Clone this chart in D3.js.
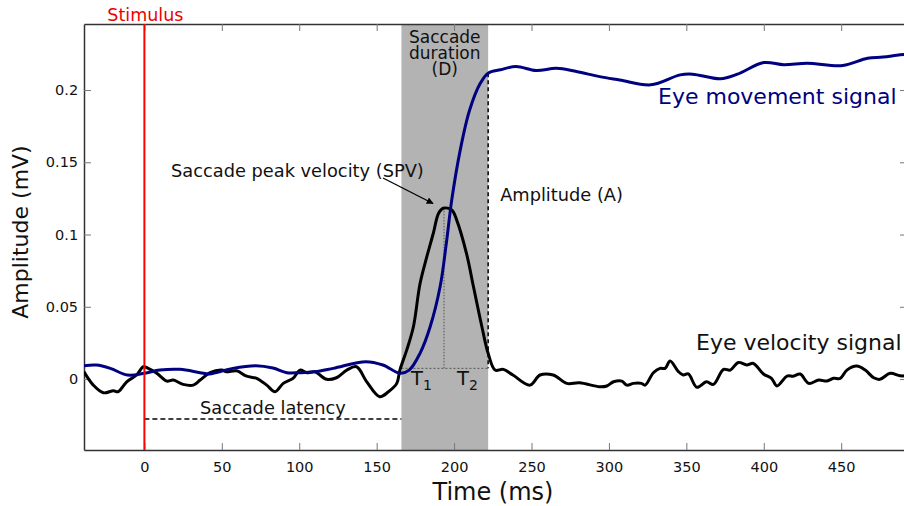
<!DOCTYPE html>
<html>
<head>
<meta charset="utf-8">
<script src="https://cdn.jsdelivr.net/npm/d3@7"></script>
<style>
  html, body { margin: 0; padding: 0; background: #fff; }
  svg { display: block; font-family: "DejaVu Sans", sans-serif; }
</style>
</head>
<body>
<svg id="chart" width="904" height="506"></svg>
<script>
// Axis ticks
const timeTicks = [0, 50, 100, 150, 200, 250, 300, 350, 400, 450];
const ampTicks = [0, 0.05, 0.1, 0.15, 0.2];

// Eye movement (position) signal, mV over ms
const movementTime = [-39, -31, -22, -11, 0, 10, 23, 36, 42, 57, 72, 83, 92, 100, 110, 122, 143, 154, 165, 171,
  178, 184.5, 191, 195, 198.5, 204, 210, 217, 222, 230, 240, 253, 266, 279, 294, 307, 327, 346, 354, 372,
  383, 400, 413, 428, 451, 467, 477, 488, 492.5];
const movementAmp = [0.0092, 0.0097, 0.0074, 0.0028, 0.004, 0.0062, 0.0067, 0.0044, 0.0035, 0.0074, 0.0092, 0.0076,
  0.0044, 0.0044, 0.005, 0.0074, 0.012, 0.0097, 0.004, 0.0062, 0.0178, 0.036, 0.064, 0.094, 0.124, 0.1586,
  0.186, 0.2048, 0.2117, 0.214, 0.2163, 0.2135, 0.215, 0.2128, 0.2093, 0.207, 0.2036, 0.2105, 0.211, 0.2078,
  0.211, 0.219, 0.2175, 0.2186, 0.217, 0.222, 0.2228, 0.2244, 0.2246];

// Eye velocity signal
const velocityTime = [-39, -33, -26.5, -20, -17, -11.4, -5, -0.7, 2.5, 8, 14.4, 18.7, 25, 31.6, 36, 42.4, 50, 53,
  59.6, 66, 72.5, 79, 84.4, 89.7, 96, 100.5, 104.8, 110, 117.8, 124, 130.7, 137, 143.6, 152, 157.6, 163, 165,
  169.4, 173.7, 178, 182.4, 186.6, 190, 193, 198.5, 201.7, 208, 212.5, 218, 222, 226.5, 231.8, 238, 249, 255.5,
  264, 272.8, 281, 294, 298.6, 303, 308.3, 311.6, 315.8, 321, 323.4, 328.7, 333, 336.3, 339.5, 345, 348, 351.3,
  356.8, 363, 367.5, 374, 378.3, 383.6, 389, 393.3, 399.8, 405, 408.5, 415, 419, 423.5, 429, 435.5, 440.8, 445,
  449.4, 453.7, 460, 465.5, 471, 475, 481.6, 488, 492.5];
const velocityAmp = [0.005, -0.0042, -0.0095, -0.0081, -0.0088, -0.0019, 0.0028, 0.0085, 0.0074, 0.004, -0.0014,
  -0.0007, -0.0037, -0.0042, -0.0007, 0.0044, 0.0062, 0.005, 0.0057, 0.002, 0.0005, -0.0042, -0.0088, -0.003,
  0.0005, 0.0062, 0.0044, 0.005, -0.0002, 0.0009, 0.0062, 0.0085, -0.0019, -0.0122, -0.0088, -0.003, 0.0062,
  0.02, 0.036, 0.066, 0.0847, 0.1009, 0.1147, 0.1182, 0.117, 0.110, 0.087, 0.064, 0.036, 0.0178, 0.0062, 0.0067,
  0.0028, -0.0042, 0.0028, 0.0028, -0.003, -0.0026, -0.0053, -0.0048, -0.0019, -0.0014, -0.0042, -0.003, -0.003,
  -0.0042, 0.0044, 0.0074, 0.0074, 0.0125, 0.005, 0.0028, 0.0035, -0.0057, -0.0019, -0.0037, 0.0067, 0.0062,
  0.0115, 0.0097, 0.0108, 0.0035, 0.0005, -0.0048, 0.002, 0.002, 0.0035, -0.003, -0.0007, -0.0014, 0.0005,
  0.0005, 0.0062, 0.009, 0.0062, 0.0009, -0.0002, 0.004, 0.0023, 0.0023];

// Saccade markers
const stimulusTime = 0;
const saccadeStart = 166;
const saccadeEnd = 222;
const peakTime = 193.5;
const peakVelocity = 0.118;
const thresholdLevel = 0.0074;
const amplitudeLevel = 0.2117;
const latencyLevel = -0.0277;

const svg = d3.select("#chart");
const plotLeft = 84, plotRight = 907, plotTop = 24, plotBottom = 450;

const x = d3.scaleLinear().domain([-39, 492.5]).range([plotLeft, plotRight]);
const y = d3.scaleLinear().domain([-0.0491, 0.2457]).range([plotBottom, plotTop]);

const defs = svg.append("defs");
defs.append("clipPath").attr("id", "plotClip")
  .append("rect").attr("x", plotLeft).attr("y", plotTop)
  .attr("width", plotRight - plotLeft).attr("height", plotBottom - plotTop);

defs.append("marker")
  .attr("id", "arrowHead").attr("viewBox", "0 0 10 10").attr("refX", 9).attr("refY", 5)
  .attr("markerWidth", 7).attr("markerHeight", 7).attr("markerUnits", "userSpaceOnUse")
  .attr("orient", "auto")
  .append("path").attr("d", "M0,0 L10,5 L0,10 Z").attr("fill", "#000");

// Saccade duration band
svg.append("rect")
  .attr("x", x(saccadeStart)).attr("y", plotTop)
  .attr("width", x(saccadeEnd) - x(saccadeStart)).attr("height", plotBottom - plotTop)
  .attr("fill", "#b3b3b3");

// Axes with inward ticks on all four sides
const tickLen = 7;
const fmt = d => d === 0 ? "0" : String(d);
const axB = svg.append("g").attr("transform", `translate(0,${plotBottom})`)
  .call(d3.axisBottom(x).tickValues(timeTicks).tickSizeInner(-tickLen).tickSizeOuter(0).tickPadding(tickLen + 5));
const axT = svg.append("g").attr("transform", `translate(0,${plotTop})`)
  .call(d3.axisTop(x).tickValues(timeTicks).tickSizeInner(-tickLen).tickSizeOuter(0).tickFormat(""));
const axL = svg.append("g").attr("transform", `translate(${plotLeft},0)`)
  .call(d3.axisLeft(y).tickValues(ampTicks).tickSizeInner(-tickLen).tickSizeOuter(0).tickPadding(3).tickFormat(fmt));
const axR = svg.append("g").attr("transform", `translate(${plotRight},0)`)
  .call(d3.axisRight(y).tickValues(ampTicks).tickSizeInner(-tickLen).tickSizeOuter(0).tickFormat(""));
[axB, axT, axL, axR].forEach(g => {
  g.select(".domain").attr("stroke", "#333").attr("stroke-width", 1.5);
  g.selectAll(".tick line").attr("stroke", "#777").attr("stroke-width", 1);
  g.selectAll(".tick text").attr("fill", "#111").attr("font-size", 14.5).attr("font-family", "DejaVu Sans");
});
axL.selectAll(".tick text").attr("dx", "-0.2em");

// Threshold and peak guides
svg.append("line")
  .attr("x1", x(saccadeStart)).attr("x2", x(saccadeEnd))
  .attr("y1", y(thresholdLevel)).attr("y2", y(thresholdLevel))
  .attr("stroke", "#555").attr("stroke-width", 1).attr("stroke-dasharray", "2,2");
svg.append("line")
  .attr("x1", x(peakTime)).attr("x2", x(peakTime))
  .attr("y1", y(thresholdLevel)).attr("y2", y(peakVelocity))
  .attr("stroke", "#555").attr("stroke-width", 1).attr("stroke-dasharray", "1.5,1.5");

// Amplitude guide
svg.append("line")
  .attr("x1", x(saccadeEnd)).attr("x2", x(saccadeEnd))
  .attr("y1", y(amplitudeLevel)).attr("y2", y(thresholdLevel))
  .attr("stroke", "#000").attr("stroke-width", 1.5).attr("stroke-dasharray", "4,3");

// Latency guide
svg.append("line")
  .attr("x1", x(stimulusTime)).attr("x2", x(saccadeStart))
  .attr("y1", y(latencyLevel)).attr("y2", y(latencyLevel))
  .attr("stroke", "#000").attr("stroke-width", 1.5).attr("stroke-dasharray", "5,3");

// Signals
const plot = svg.append("g").attr("clip-path", "url(#plotClip)");
const line = d3.line().x(d => x(d[0])).y(d => y(d[1])).curve(d3.curveCatmullRom.alpha(0.5));

plot.append("path")
  .datum(velocityTime.map((t, i) => [t, velocityAmp[i]]))
  .attr("d", line).attr("fill", "none")
  .attr("stroke", "#000").attr("stroke-width", 3).attr("stroke-linejoin", "round");

plot.append("path")
  .datum(movementTime.map((t, i) => [t, movementAmp[i]]))
  .attr("d", line).attr("fill", "none")
  .attr("stroke", "#000080").attr("stroke-width", 3).attr("stroke-linejoin", "round");

// Stimulus onset
svg.append("line")
  .attr("x1", x(stimulusTime)).attr("x2", x(stimulusTime))
  .attr("y1", plotTop).attr("y2", plotBottom)
  .attr("stroke", "#f00").attr("stroke-width", 2);
svg.append("text").attr("x", x(stimulusTime) + 1).attr("y", 21)
  .attr("text-anchor", "middle").attr("font-size", 17.5).attr("fill", "#e00")
  .text("Stimulus");

// Annotations
const note = (tx, ty, str, anchor = "start", size = 17.5, color = "#111") =>
  svg.append("text").attr("x", tx).attr("y", ty).attr("text-anchor", anchor)
    .attr("font-size", size).attr("fill", color).text(str);

// Three-line band caption, tightly leaded
const bandMid = x((saccadeStart + saccadeEnd) / 2);
note(bandMid, 43, "Saccade", "middle", 17);
note(bandMid, 59, "duration", "middle", 17);
note(bandMid, 75, "(D)", "middle", 17);

note(171, 177, "Saccade peak velocity (SPV)", "start", 17.8);
svg.append("line")
  .attr("x1", 383).attr("y1", 178)
  .attr("x2", x(peakTime) - 11).attr("y2", y(peakVelocity) - 5)
  .attr("stroke", "#000").attr("stroke-width", 1.3)
  .attr("marker-end", "url(#arrowHead)");

note(x(saccadeEnd) + 12, 201, "Amplitude (A)", "start", 17.8);
note(x((stimulusTime + saccadeStart) / 2), 414, "Saccade latency", "middle", 17.8);

// T1 / T2 labels
const tLabel = (tx, sub) => {
  const t = svg.append("text").attr("x", tx).attr("y", 385).attr("font-size", 19.5).attr("fill", "#111");
  t.append("tspan").text("T");
  t.append("tspan").attr("font-size", 14).attr("dy", 5).text(sub);
};
tLabel(411, "1");
tLabel(457, "2");

note(658, 104, "Eye movement signal", "start", 22, "#000080");
note(696, 350, "Eye velocity signal", "start", 22, "#111");

// Axis titles
svg.append("text").attr("x", 493).attr("y", 500).attr("text-anchor", "middle")
  .attr("font-size", 24).attr("fill", "#111").text("Time (ms)");
svg.append("text").attr("transform", "translate(28,232) rotate(-90)").attr("text-anchor", "middle")
  .attr("font-size", 22).attr("fill", "#111").text("Amplitude (mV)");
</script>
</body>
</html>
